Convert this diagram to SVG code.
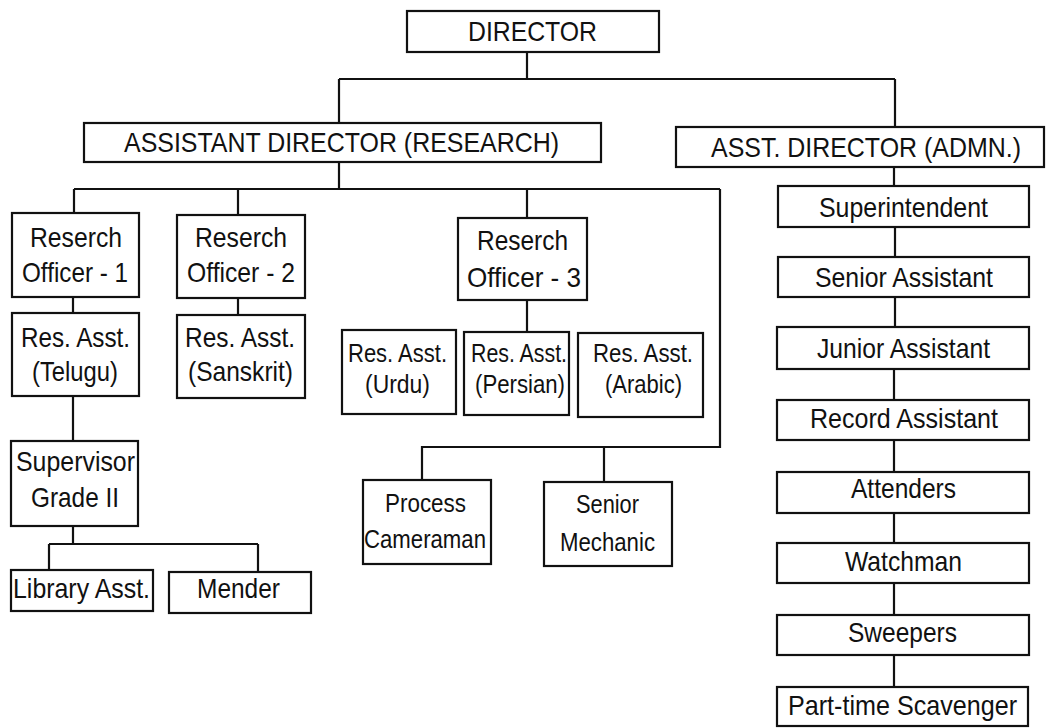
<svg xmlns="http://www.w3.org/2000/svg" width="1049" height="728" viewBox="0 0 1049 728">
<style>
rect.b{fill:#fff;stroke:#111;stroke-width:2.2}
.c path{fill:none;stroke:#111;stroke-width:2.2}
text{font-family:"Liberation Sans",Arial,sans-serif;font-size:28px;fill:#111;text-anchor:middle}
text.s{font-size:26px}
</style>
<rect width="1049" height="728" fill="#fff"/>
<g class="c" id="connectors">
<path d="M527 52V79M339 79H895M339 79V123M895 79V127"/>
<path d="M339 162V189M74 189H720M74 189V213M238 189V215M527 189V218M720 189V447H422V480M604 447V482"/>
<path d="M527 300V332"/>
<path d="M73 297V313M73 396V441M73 526V544M49 544H258M49 544V570M258 544V572"/>
<path d="M238 298V315"/>
<path d="M894 167V186M895 227V257M895 297V327M894 369V400M894 440V472M894 513V543M894 583V615M894 655V687"/>
</g>
<g id="director"><rect class="b" x="407" y="11" width="252" height="41"/><text x="532.5" y="41" textLength="129" lengthAdjust="spacingAndGlyphs">DIRECTOR</text></g>
<g id="adr"><rect class="b" x="84" y="123" width="517" height="39"/><text x="341.5" y="152" textLength="435" lengthAdjust="spacingAndGlyphs">ASSISTANT DIRECTOR (RESEARCH)</text></g>
<g id="ada"><rect class="b" x="676" y="127" width="368" height="40"/><text x="866" y="157" textLength="310" lengthAdjust="spacingAndGlyphs">ASST. DIRECTOR (ADMN.)</text></g>
<g id="ro1"><rect class="b" x="12" y="213" width="127" height="84"/><text x="76" y="247" textLength="92" lengthAdjust="spacingAndGlyphs">Reserch</text><text x="75" y="282" textLength="106" lengthAdjust="spacingAndGlyphs">Officer - 1</text></g>
<g id="ro2"><rect class="b" x="177" y="215" width="128" height="83"/><text x="241" y="247" textLength="92" lengthAdjust="spacingAndGlyphs">Reserch</text><text x="241" y="282" textLength="108" lengthAdjust="spacingAndGlyphs">Officer - 2</text></g>
<g id="ro3"><rect class="b" x="458" y="218" width="129" height="82"/><text x="522.5" y="250" textLength="91" lengthAdjust="spacingAndGlyphs">Reserch</text><text x="524" y="287" textLength="114" lengthAdjust="spacingAndGlyphs">Officer - 3</text></g>
<g id="ra-telugu"><rect class="b" x="12" y="313" width="127" height="83"/><text x="75.5" y="347" textLength="109" lengthAdjust="spacingAndGlyphs">Res. Asst.</text><text x="75" y="381" textLength="86" lengthAdjust="spacingAndGlyphs">(Telugu)</text></g>
<g id="ra-sanskrit"><rect class="b" x="177" y="315" width="128" height="83"/><text x="240" y="347" textLength="110" lengthAdjust="spacingAndGlyphs">Res. Asst.</text><text x="240.5" y="381" textLength="105" lengthAdjust="spacingAndGlyphs">(Sanskrit)</text></g>
<g id="ra-urdu"><rect class="b" x="342" y="330" width="114" height="84"/><text class="s" x="397.5" y="362" textLength="99" lengthAdjust="spacingAndGlyphs">Res. Asst.</text><text class="s" x="397.5" y="393" textLength="65" lengthAdjust="spacingAndGlyphs">(Urdu)</text></g>
<g id="ra-persian"><rect class="b" x="464" y="332" width="105" height="83"/><text class="s" x="519" y="362" textLength="96" lengthAdjust="spacingAndGlyphs">Res. Asst.</text><text class="s" x="520" y="393" textLength="90" lengthAdjust="spacingAndGlyphs">(Persian)</text></g>
<g id="ra-arabic"><rect class="b" x="578" y="333" width="125" height="84"/><text class="s" x="643" y="362" textLength="100" lengthAdjust="spacingAndGlyphs">Res. Asst.</text><text class="s" x="643.5" y="393" textLength="77" lengthAdjust="spacingAndGlyphs">(Arabic)</text></g>
<g id="supervisor"><rect class="b" x="11" y="441" width="127" height="85"/><text x="75.5" y="471" textLength="119" lengthAdjust="spacingAndGlyphs">Supervisor</text><text x="75" y="507" textLength="88" lengthAdjust="spacingAndGlyphs">Grade II</text></g>
<g id="library"><rect class="b" x="11" y="570" width="142" height="41"/><text x="81.5" y="598" textLength="137" lengthAdjust="spacingAndGlyphs">Library Asst.</text></g>
<g id="mender"><rect class="b" x="169" y="572" width="142" height="41"/><text x="238.5" y="598" textLength="83" lengthAdjust="spacingAndGlyphs">Mender</text></g>
<g id="process"><rect class="b" x="363" y="480" width="128" height="84"/><text class="s" x="425.5" y="512" textLength="81" lengthAdjust="spacingAndGlyphs">Process</text><text class="s" x="425" y="548" textLength="122" lengthAdjust="spacingAndGlyphs">Cameraman</text></g>
<g id="mechanic"><rect class="b" x="544" y="482" width="128" height="84"/><text class="s" x="607.5" y="513" textLength="63" lengthAdjust="spacingAndGlyphs">Senior</text><text class="s" x="607.5" y="551" textLength="95" lengthAdjust="spacingAndGlyphs">Mechanic</text></g>
<g id="superintendent"><rect class="b" x="778" y="186" width="251" height="41"/><text x="903.5" y="217" textLength="169" lengthAdjust="spacingAndGlyphs">Superintendent</text></g>
<g id="senior-assistant"><rect class="b" x="778" y="257" width="251" height="40"/><text x="904" y="287" textLength="178" lengthAdjust="spacingAndGlyphs">Senior Assistant</text></g>
<g id="junior-assistant"><rect class="b" x="777" y="327" width="252" height="42"/><text x="903.5" y="358" textLength="173" lengthAdjust="spacingAndGlyphs">Junior Assistant</text></g>
<g id="record-assistant"><rect class="b" x="777" y="400" width="252" height="40"/><text x="904" y="428" textLength="188" lengthAdjust="spacingAndGlyphs">Record Assistant</text></g>
<g id="attenders"><rect class="b" x="777" y="472" width="252" height="41"/><text x="903.5" y="498" textLength="105" lengthAdjust="spacingAndGlyphs">Attenders</text></g>
<g id="watchman"><rect class="b" x="777" y="543" width="252" height="40"/><text x="903.5" y="571" textLength="117" lengthAdjust="spacingAndGlyphs">Watchman</text></g>
<g id="sweepers"><rect class="b" x="777" y="615" width="252" height="40"/><text x="902.5" y="642" textLength="109" lengthAdjust="spacingAndGlyphs">Sweepers</text></g>
<g id="scavenger"><rect class="b" x="777" y="687" width="251" height="39"/><text x="902.5" y="715" textLength="229" lengthAdjust="spacingAndGlyphs">Part-time Scavenger</text></g>
</svg>
